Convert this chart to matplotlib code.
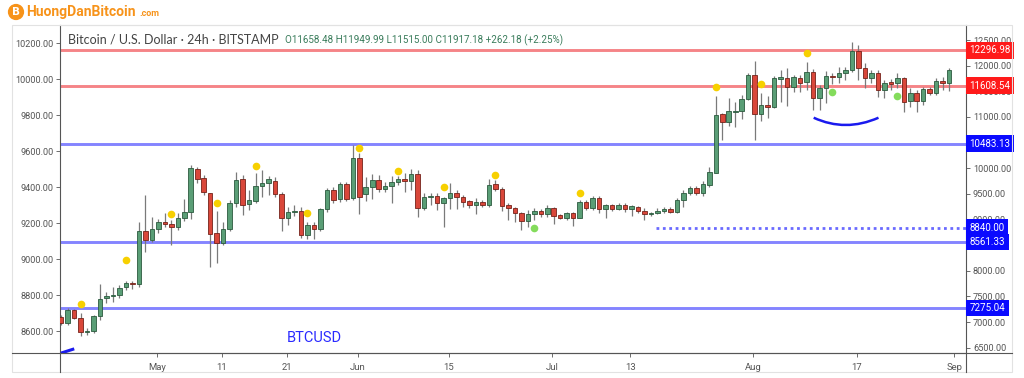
import matplotlib.pyplot as plt
import matplotlib.transforms as mtransforms
from matplotlib.path import Path
from matplotlib.patches import PathPatch, Rectangle
from matplotlib.lines import Line2D
import numpy as np

# BTC/USD daily candles, index 0 = 17 Apr 2020 ... index 137 = 1 Sep 2020
opens = [7100, 6980, 7230, 7090, 6800, 6830, 7120, 7465, 7500, 7530,
         7680, 7765, 7740, 8780, 8600, 8815, 8960, 8905, 8860, 9025,
         9145, 9990, 9805, 9515, 8730, 8550, 8815, 9315, 9800, 9300,
         9365, 9650, 9720, 9760, 9500, 9040, 9150, 9175, 8700, 8890,
         8810, 9200, 9580, 9400, 9690, 9415, 10195, 9500, 9640, 9770,
         9600, 9660, 9740, 9785, 9760, 9890, 9230, 9440, 9460, 9320,
         9415, 9525, 9445, 9360, 9285, 9345, 9280, 9690, 9600, 9285,
         9220, 9135, 8980, 9105, 9175, 9110, 9220, 9080, 9030, 9120,
         9040, 9335, 9230, 9430, 9200, 9280, 9215, 9290, 9200, 9250,
         9175, 9105, 9130, 9165, 9205, 9140, 9380, 9515, 9610, 9525,
         9675, 9915, 11060, 10910, 11100, 11115, 11345, 11820, 11060, 11235,
         11190, 11745, 11770, 11590, 11770, 11680, 11885, 11375, 11560, 11805,
         11775, 11850, 11915, 12295, 11950, 11755, 11865, 11525, 11690, 11655,
         11755, 11320, 11465, 11320, 11540, 11465, 11710, 11658.48]
highs = [7145, 7280, 7255, 7185, 6885, 7140, 7740, 7595, 7690, 7725,
         7800, 7800, 8960, 9480, 9055, 9005, 9130, 8990, 9120, 9400,
         10065, 10030, 9870, 9525, 9165, 8960, 9380, 9930, 9870, 9580,
         9900, 9965, 9840, 9825, 9545, 9250, 9285, 9240, 8960, 8960,
         9220, 9610, 9640, 9740, 9740, 10455, 10290, 9825, 9890, 9870,
         9740, 9840, 9840, 9900, 9980, 9965, 9510, 9525, 9510, 9445,
         9710, 9575, 9480, 9390, 9415, 9380, 9785, 9770, 9640, 9320,
         9240, 9155, 9185, 9220, 9200, 9285, 9240, 9100, 9155, 9155,
         9380, 9380, 9460, 9460, 9305, 9305, 9330, 9320, 9285, 9265,
         9220, 9155, 9220, 9250, 9250, 9415, 9575, 9660, 9650, 9750,
         10030, 11410, 11085, 11365, 11300, 11430, 11865, 12100, 11460, 11410,
         11790, 11915, 11950, 11820, 11820, 12080, 11930, 11625, 11905, 11865,
         11980, 11970, 12470, 12405, 12045, 11915, 11915, 11720, 11750, 11850,
         11785, 11560, 11525, 11590, 11580, 11755, 11785, 11949.99]
lows = [6950, 6940, 7060, 6730, 6750, 6790, 7040, 7370, 7400, 7470,
        7625, 7640, 7690, 8375, 8570, 8730, 8860, 8505, 8800, 8980,
        9005, 9705, 9480, 8080, 8145, 8500, 8770, 9250, 9090, 9190,
        9320, 9445, 9480, 9435, 8770, 8895, 9060, 8640, 8615, 8630,
        8770, 9155, 9320, 9340, 9360, 9380, 9110, 9370, 9400, 9545,
        9545, 9330, 9670, 9545, 9575, 9055, 9185, 9285, 9185, 8860,
        9200, 9200, 9240, 9220, 9110, 9240, 9240, 9565, 9170, 8990,
        8960, 8800, 8860, 8990, 9045, 9055, 8915, 9010, 8990, 8875,
        9025, 9185, 9185, 9120, 9025, 9175, 9190, 9155, 9070, 9135,
        8990, 9070, 9100, 9130, 9120, 9125, 9250, 9480, 9480, 9460,
        9640, 9900, 10550, 10825, 10810, 10955, 11330, 10550, 10930, 10975,
        11170, 11300, 11215, 11495, 11495, 11525, 11135, 11140, 11265, 11645,
        11655, 11720, 11885, 11720, 11560, 11655, 11395, 11365, 11525, 11560,
        11105, 11200, 11105, 11235, 11430, 11430, 11525, 11515.00]
closes = [6980, 7230, 7090, 6810, 6830, 7120, 7450, 7500, 7530, 7670,
          7770, 7740, 8780, 8600, 8810, 8960, 8910, 8860, 9025, 9145,
          10000, 9785, 9530, 8715, 8550, 8810, 9320, 9770, 9280, 9380,
          9650, 9720, 9785, 9500, 9035, 9155, 9175, 8695, 8890, 8810,
          9200, 9580, 9380, 9690, 9410, 10195, 9440, 9640, 9770, 9600,
          9660, 9740, 9785, 9760, 9890, 9230, 9445, 9460, 9320, 9415,
          9525, 9435, 9350, 9285, 9350, 9280, 9670, 9600, 9270, 9220,
          9120, 8980, 9105, 9175, 9110, 9220, 9070, 9030, 9120, 9040,
          9335, 9230, 9425, 9200, 9280, 9215, 9290, 9200, 9265, 9175,
          9100, 9130, 9175, 9205, 9140, 9380, 9525, 9610, 9525, 9690,
          9935, 11040, 10910, 11125, 11125, 11345, 11820, 11060, 11235, 11190,
          11755, 11775, 11590, 11785, 11670, 11885, 11375, 11560, 11800, 11775,
          11850, 11915, 12295, 11950, 11755, 11865, 11525, 11655, 11640, 11770,
          11300, 11475, 11320, 11540, 11465, 11710, 11655, 11917.18]

# time-axis labels (positions on the candle index scale, as drawn by the source)
tick_pos = [14.8, 24.8, 34.8, 45.8, 59.8, 75.8, 87.8, 106.8, 122.8, 137.8]
tick_labels = ['May', '11', '21', 'Jun', '15', 'Jul', '13', 'Aug', '17', 'Sep']

red_levels = [12296.98, 11608.54]
blue_levels = [10483.13, 8561.33, 7275.04]
dotted_level = 8840.00
dotted_from = 91.7

yellow_idx = [3, 10, 17, 24, 30, 38, 46, 52, 59, 67, 80, 101, 108, 115]
yellow_price = [7353, 8218, 9108, 9317, 10044, 9134, 10396, 9953, 9641,
                9870, 9524, 11580, 11644, 12242]
green_idx = [73, 119, 129]
green_price = [8841, 11482, 11417]

# 10500 and 8500 sit fully under the level boxes in the source, so no label
right_ticks = [6500, 7000, 7500, 8000, 9000, 9500, 10000, 11000, 11500, 12000, 12500]
left_ticks = np.arange(8600, 10201, 200)

SANS = ['Roboto', 'DejaVu Sans']
W, H = 1024, 378


def fx(px):
    return px / W


def fy(py):
    return 1 - py / H


fig = plt.figure(figsize=(10.24, 3.78), dpi=100)
ax = fig.add_axes([fx(60.4), fy(353), fx(966) - fx(60.4), fy(25) - fy(353)])
axl = ax.twinx()   # left-hand scale (twinx flips ax ticks, so set ax ticks afterwards)

ax.set_xlim(-0.11, 139.6)
ax.set_ylim(6398, 12794)

x = np.arange(len(opens))
o = np.array(opens)
c = np.array(closes)
up = c >= o
body_lo = np.minimum(o, c)
body_h = np.maximum(np.abs(c - o), 12)

ax.vlines(x, lows, highs, color='#7a7a7a', lw=0.9, zorder=3)
ax.bar(x[up], body_h[up], bottom=body_lo[up], width=0.7,
       color='#5a9e76', edgecolor='#2b5a3e', lw=0.6, zorder=4)
ax.bar(x[~up], body_h[~up], bottom=body_lo[~up], width=0.7,
       color='#d9473a', edgecolor='#74231a', lw=0.6, zorder=4)

for lvl in red_levels:
    ax.axhline(lvl, color='#f58487', lw=2.1, zorder=2)
for lvl in blue_levels:
    ax.axhline(lvl, color='#8484ff', lw=2.1, zorder=2)
ax.plot([dotted_from, 139.6], [dotted_level, dotted_level], color='#6a6aff',
        lw=2, ls=(0, (1, 1.3)), zorder=2)

ax.plot(yellow_idx, yellow_price, 'o', color='#f7d000', ms=5.5, mec='none', zorder=5)
ax.plot(green_idx, green_price, 'o', color='#84dc5c', ms=5.5, mec='none', zorder=5)

# blue "smile" under the August consolidation
arc = Path([(116.1, 10986), (121, 10702), (126.1, 10986)],
           [Path.MOVETO, Path.CURVE3, Path.CURVE3])
ax.add_patch(PathPatch(arc, fc='none', ec='#1a1aee', lw=1.8, zorder=5))
ax.plot([0.2, 1.8], [6405, 6470], color='#1a1aee', lw=2.2, zorder=5)

ax.text(39, 6690, 'BTCUSD', color='#2a2aff', fontsize=10.5, ha='center',
        va='center', family=SANS)

# right price scale
ax.yaxis.tick_right()
ax.yaxis.set_label_position('right')
ax.set_yticks(right_ticks)
ax.set_yticklabels([f'{v:.2f}' for v in right_ticks], family=SANS)
ax.tick_params(axis='y', labelsize=6.6, colors='#555555', length=3, width=0.6, pad=2)

ax.set_xticks(tick_pos)
ax.set_xticklabels(tick_labels, family=SANS)
ax.tick_params(axis='x', labelsize=6.8, colors='#555555', length=3, width=0.6, pad=4)

for side in ['left', 'right', 'bottom']:
    ax.spines[side].set_color('#555555')
    ax.spines[side].set_linewidth(0.8)
ax.spines['top'].set_color('#dddddd')

trans = mtransforms.blended_transform_factory(ax.transAxes, ax.transData)
for lvl, col in [(red_levels[0], '#ff1a1a'), (red_levels[1], '#ff1a1a'),
                 (blue_levels[0], '#0a0aff'), (dotted_level, '#0a0aff'),
                 (blue_levels[1], '#0a0aff'), (blue_levels[2], '#0a0aff')]:
    ax.text(1.004, lvl, f'{lvl:.2f}', transform=trans, ha='left', va='center',
            color='white', fontsize=7, family=SANS, zorder=10,
            bbox=dict(boxstyle='square,pad=0.35', fc=col, ec='none'))

# left scale
axl.set_ylim(8478, 10300)
axl.yaxis.tick_left()
axl.set_yticks(left_ticks)
axl.set_yticklabels([f'{v:.2f}' for v in left_ticks], family=SANS)
axl.tick_params(axis='y', labelsize=6.6, colors='#555555', length=3, width=0.6, pad=2)
for s in axl.spines.values():
    s.set_visible(False)

# header text
ax.text(0.008, 0.955, 'Bitcoin / U.S. Dollar · 24h · BITSTAMP', transform=ax.transAxes,
        fontsize=9, color='#444444', va='center', family=['Lato', 'DejaVu Sans'], zorder=10)
ax.text(0.248, 0.955, 'O11658.48 H11949.99 L11515.00 C11917.18 +262.18 (+2.25%)',
        transform=ax.transAxes, fontsize=7.1, color='#3b7d5c', va='center',
        family=SANS, zorder=10)

# outer chart frame and long axis lines
fig.add_artist(Rectangle((fx(12), fy(372)), fx(1012) - fx(12), fy(25) - fy(372),
                         transform=fig.transFigure, fill=False, ec='#e2e2e2', lw=0.8))
fig.add_artist(Line2D([fx(12), fx(1012)], [fy(353), fy(353)], color='#555555', lw=0.8))
fig.add_artist(Line2D([fx(60.4), fx(60.4)], [fy(353), fy(372)], color='#555555', lw=0.8))
fig.add_artist(Line2D([fx(966), fx(966)], [fy(353), fy(372)], color='#555555', lw=0.8))

# site logo
fig.text(fx(16), fy(12), 'B', ha='center', va='center', color='white', fontsize=7.5,
         weight='bold', bbox=dict(boxstyle='circle,pad=0.3', fc='#f7931a', ec='none'))
fig.text(fx(26), fy(12), 'HuongDanBitcoin', ha='left', va='center', color='#f7931a',
         fontsize=10, weight='bold', family=SANS)
fig.text(fx(139), fy(14), '.com', ha='left', va='center', color='#f7931a',
         fontsize=6.5, weight='bold', family=SANS)

fig.savefig('out.png', dpi=100)
